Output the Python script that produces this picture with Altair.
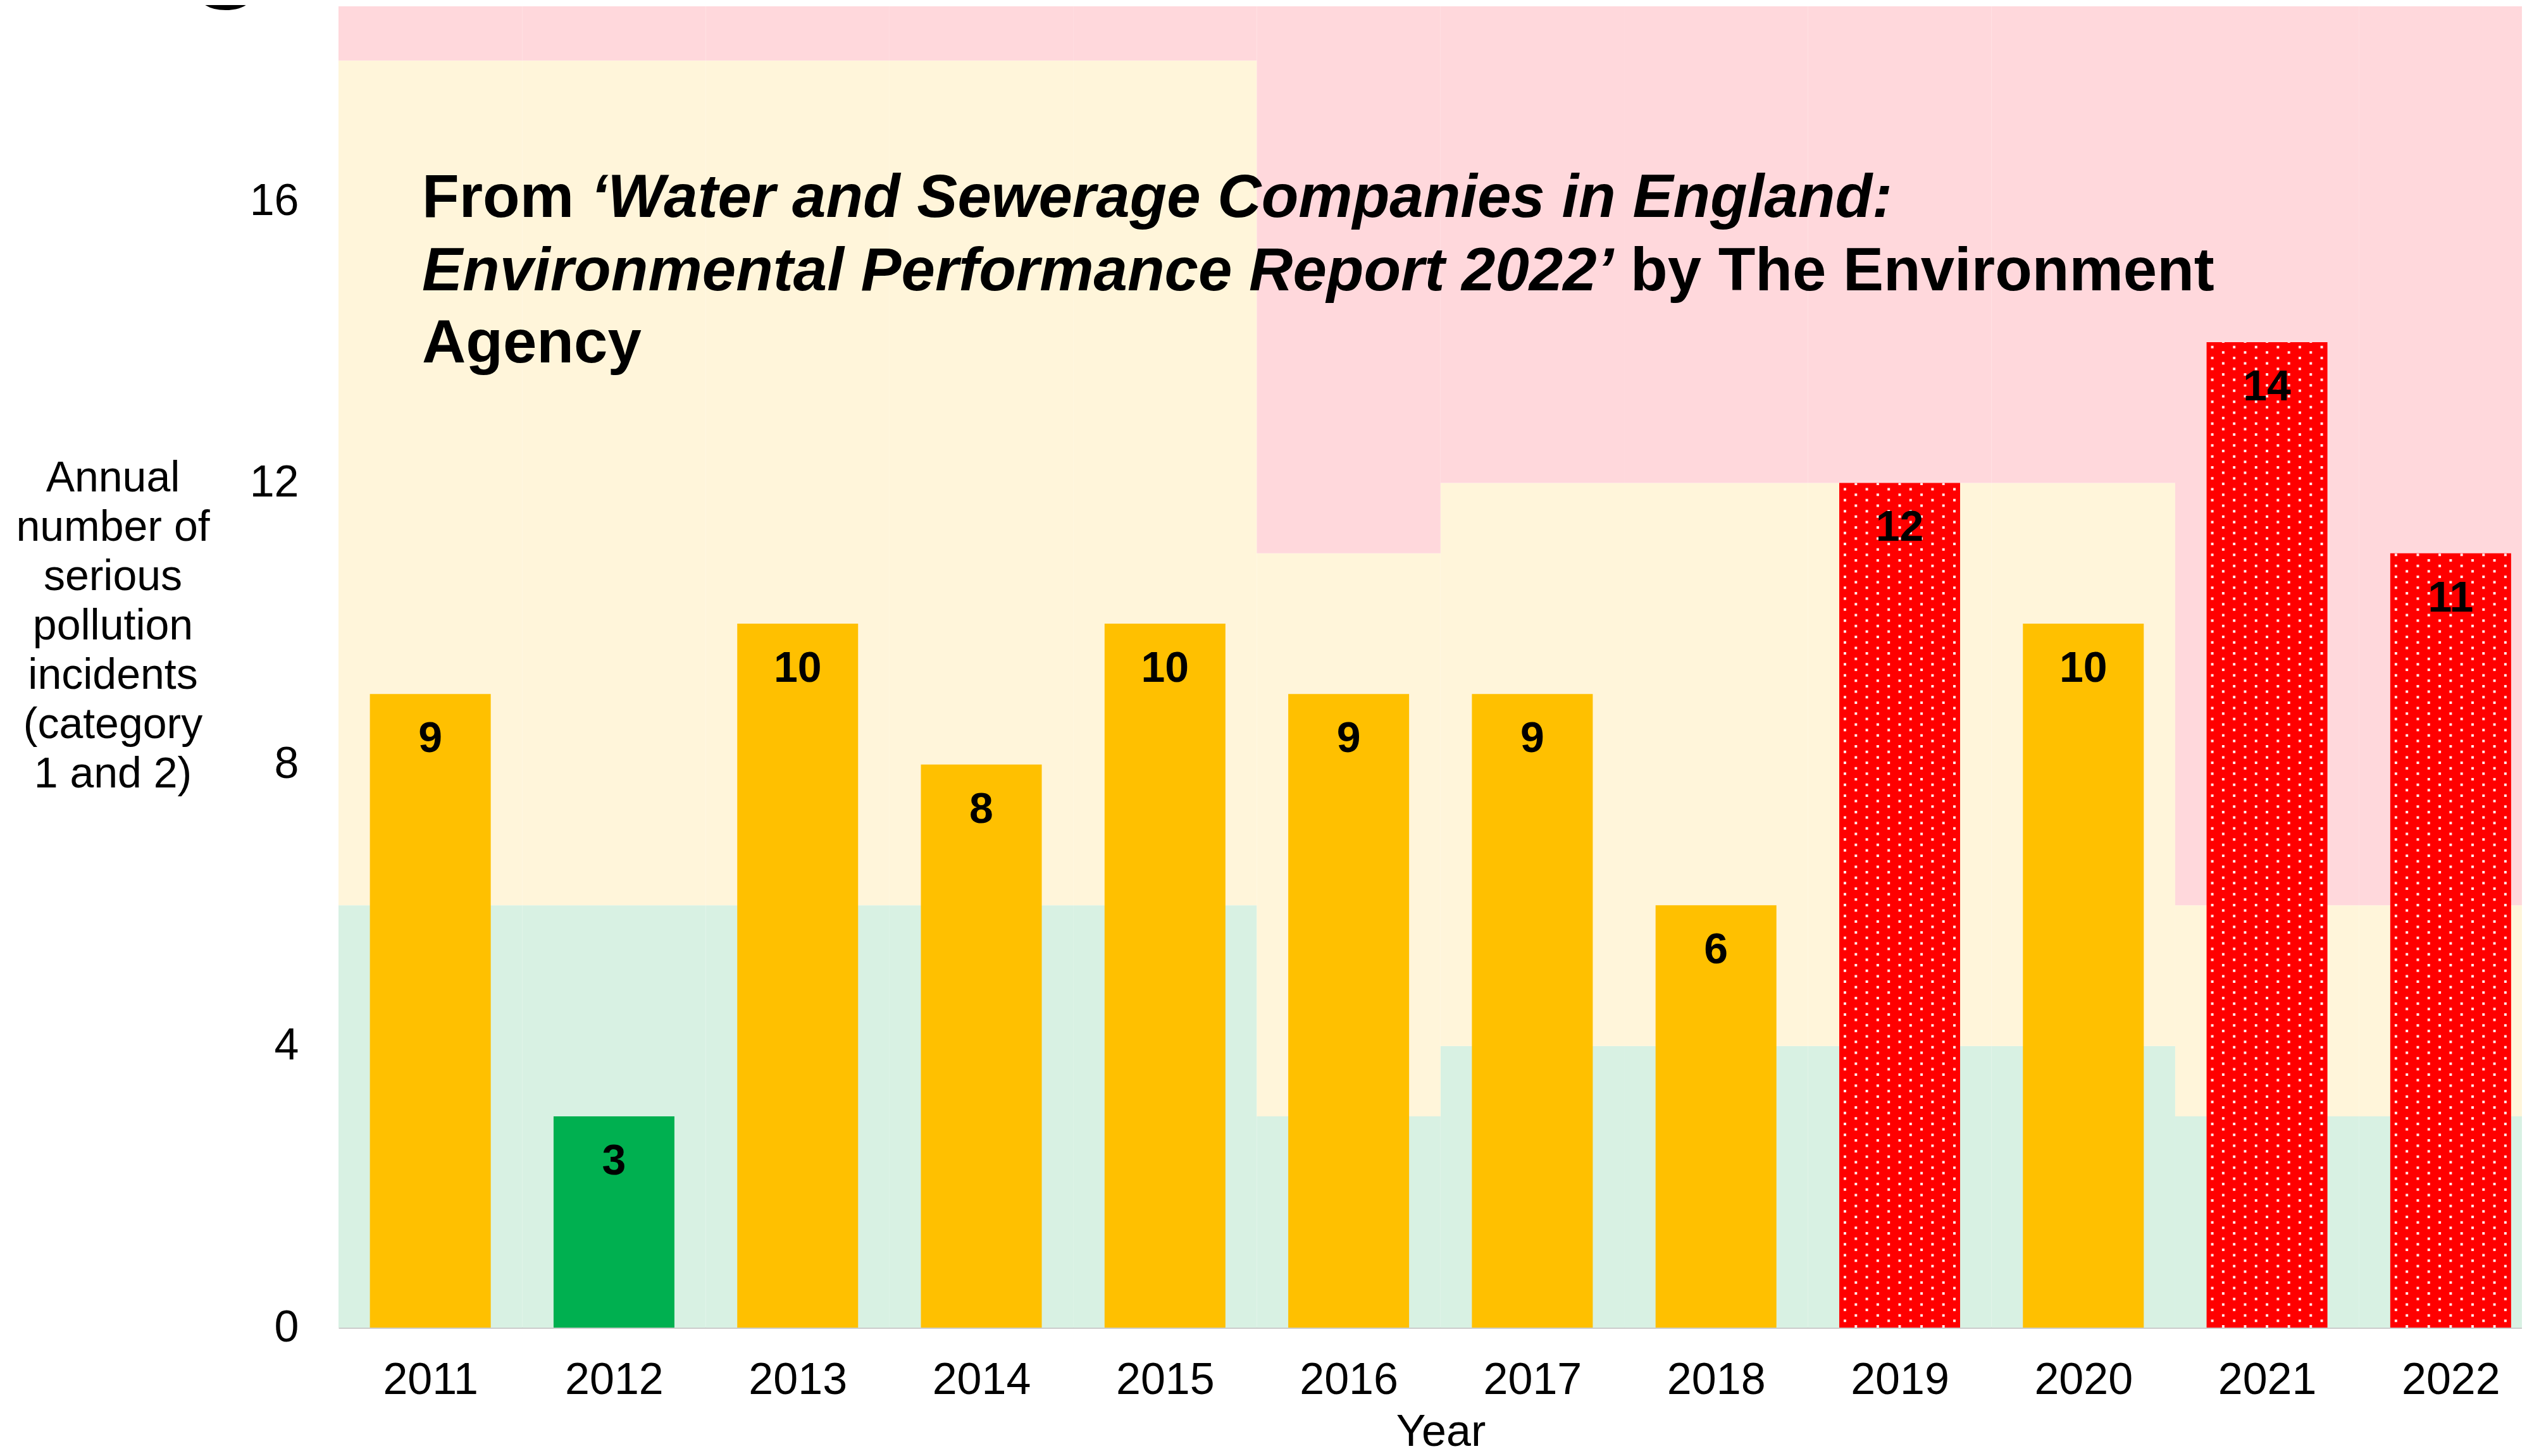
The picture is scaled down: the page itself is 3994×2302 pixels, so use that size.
import altair as alt
import pandas as pd

# ---------------- data ----------------
years = [2011, 2012, 2013, 2014, 2015, 2016, 2017, 2018, 2019, 2020, 2021, 2022]
incidents = [9, 3, 10, 8, 10, 9, 9, 6, 12, 10, 14, 11]
rating = ["Amber", "Green", "Amber", "Amber", "Amber", "Amber",
          "Amber", "Amber", "Red", "Amber", "Red", "Red"]
green_limit = [6, 6, 6, 6, 6, 3, 4, 4, 4, 4, 3, 3]
amber_limit = [18, 18, 18, 18, 18, 11, 12, 12, 12, 12, 6, 6]
y_ticks = [0, 4, 8, 12, 16]
y_title = ["Annual", "number of", "serious", "pollution", "incidents",
           "(category", "1 and 2)"]
x_title = "Year"
title_from = "From "
title_italic_1 = "\u2018Water and Sewerage Companies in England:"
title_italic_2 = "Environmental Performance Report 2022\u2019"
title_by = "by The Environment"
title_agency = "Agency"
cut_glyph = "g"

# ---------------- styling ----------------
FONT = "Liberation Sans"
Y_TOP = 18.77
X_MIN, X_MAX = 2010.5, 2022.388
W, H = 3451, 2089
C_MINT, C_CREAM, C_PINK = "#D8F1E3", "#FFF5DA", "#FFD8DC"
BAR_COLORS = {"Green": "#00B050", "Amber": "#FFC000", "Red": "#FF0000"}

df = pd.DataFrame({"year": years, "incidents": incidents, "rating": rating,
                   "green": green_limit, "amber": amber_limit})

x_axis = alt.Axis(values=years, format="d", title=x_title,
                  labelFont=FONT, labelFontSize=70, labelColor="black",
                  labelPadding=104, labelBaseline="alphabetic", labelFlush=False,
                  labelOverlap=False, ticks=False, tickSize=0, grid=False,
                  domain=True, domainColor="#CCCCCC", domainWidth=3,
                  titleFont=FONT, titleFontSize=70, titleFontWeight="normal",
                  titleColor="black", titleX=1742, titleY=186, titleAlign="center",
                  titleBaseline="alphabetic", titleAngle=0)
y_axis = alt.Axis(values=y_ticks, title=y_title, format="d",
                  labelFont=FONT, labelFontSize=70, labelColor="black",
                  labelPadding=63, labelBaseline="middle", ticks=False, tickSize=0,
                  domain=False, grid=False,
                  titleFont=FONT, titleFontSize=68, titleFontWeight="normal",
                  titleColor="black", titleAngle=0, titleX=-357, titleY=746,
                  titleAlign="center", titleBaseline="middle", titleLineHeight=78)

x_scale = alt.Scale(domain=[X_MIN, X_MAX], nice=False, zero=False)
y_scale = alt.Scale(domain=[0, Y_TOP], nice=False, zero=True)


def X(field):
    return alt.X(f"{field}:Q", scale=x_scale, axis=x_axis)


def Y(field):
    return alt.Y(f"{field}:Q", scale=y_scale, axis=y_axis)


base = alt.Chart(df).transform_calculate(
    x0="datum.year - 0.5", x1="datum.year + 0.5",
    b0="datum.year - 0.329", b1="datum.year + 0.329",
    zero="0", top=str(Y_TOP))

green_band = base.mark_rect(clip=True, color=C_MINT).encode(
    x=X("x0"), x2="x1:Q", y=Y("zero"), y2="green:Q")
amber_band = base.mark_rect(clip=True, color=C_CREAM).encode(
    x=X("x0"), x2="x1:Q", y=Y("green"), y2="amber:Q")
pink_band = base.mark_rect(clip=True, color=C_PINK).encode(
    x=X("x0"), x2="x1:Q", y=Y("amber"), y2="top:Q")

bars = base.mark_rect(clip=True).encode(
    x=X("b0"), x2="b1:Q", y=Y("zero"), y2="incidents:Q",
    color=alt.Color("rating:N", legend=None,
                    scale=alt.Scale(domain=list(BAR_COLORS.keys()),
                                    range=list(BAR_COLORS.values()))))

# dotted texture on red bars
dots = []
for k in range(-5, 6):
    dots.append(
        base.transform_filter("datum.rating == 'Red'").mark_rule(
            color="#FFEAEA", strokeWidth=4, strokeDash=[4, 13.3],
            strokeCap="butt",
            strokeDashOffset=(0 if k % 2 == 0 else 8.65), xOffset=k * 17.3,
            clip=True
        ).encode(x=X("year"), y=Y("zero"), y2="incidents:Q")
    )

labels = base.mark_text(font=FONT, fontSize=68, fontWeight="bold", color="black",
                        align="center", baseline="alphabetic", dy=92).encode(
    x=X("year"), y=Y("incidents"), text="incidents:Q")


def piece(txt, px, py, italic=False, size=96):
    return alt.Chart(pd.DataFrame({"t": [txt]})).mark_text(
        font=FONT, fontSize=size, fontWeight="bold",
        fontStyle=("italic" if italic else "normal"),
        color="black", align="left", baseline="alphabetic"
    ).encode(x=alt.value(px), y=alt.value(py), text="t:N")


title_layers = [
    piece(title_from, 132, 333),
    piece(title_italic_1, 398.7, 333, italic=True),
    piece(title_italic_2, 132, 449, italic=True),
    piece(title_by, 2042, 449),
    piece(title_agency, 132, 563),
    piece(cut_glyph, -237, -37, size=200),
]

chart = alt.layer(green_band, amber_band, pink_band, bars, *dots, labels,
                  *title_layers).properties(
    width=W, height=H,
    autosize=alt.AutoSizeParams(type="none"),
    padding={"left": 527, "top": 2, "right": 0, "bottom": 189},
    background="white",
).configure_view(strokeWidth=0)

chart.save("out.html", embed_options={"renderer": "svg", "actions": False})
